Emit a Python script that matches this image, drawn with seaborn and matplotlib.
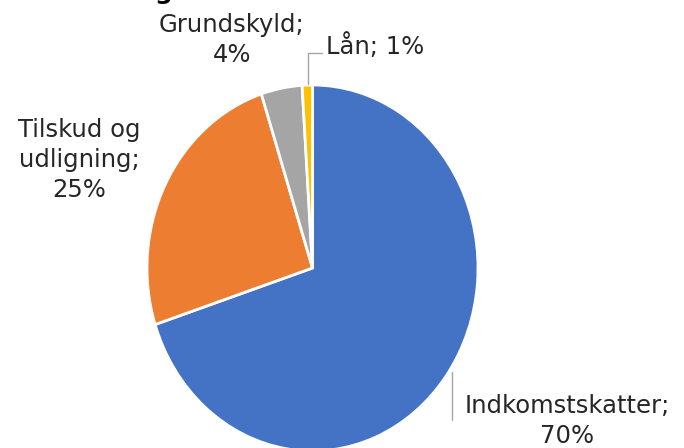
import matplotlib
matplotlib.use("Agg")
import matplotlib.pyplot as plt
import seaborn as sns

sns.set_theme(style="white")
plt.rcParams['font.family'] = ['DejaVu Sans']

categories = ['Indkomstskatter', 'Tilskud og\nudligning', 'Grundskyld', 'Lån']
shares = [70, 25, 4, 1]
label_texts = ['Indkomstskatter;\n70%', 'Tilskud og\nudligning;\n25%', 'Grundskyld;\n4%', 'Lån; 1%']
colours = ['#4472C4', '#ED7D31', '#A5A5A5', '#FFC000']

W, H = 684, 448
fig = plt.figure(figsize=(W / 100, H / 100), dpi=100)

# pie area in pixels (slightly stretched vertically like the original)
left, right, top, bottom = 147, 478, 85, 451
ax = fig.add_axes([left / W, (H - bottom) / H, (right - left) / W, (bottom - top) / H])
ax.pie(shares, colors=colours, startangle=90, counterclock=False,
       wedgeprops=dict(edgecolor='white', linewidth=2))
ax.set_aspect('auto')
ax.set_xlim(-1, 1)
ax.set_ylim(-1, 1)
ax.axis('off')

txt = dict(fontsize=17.5, color='#262626', linespacing=1.3)

def fx(x):
    return x / W

def fy(y):
    return 1 - y / H

fig.text(fx(567), fy(421), label_texts[0], ha='center', va='center', **txt)
fig.text(fx(79), fy(160), label_texts[1], ha='center', va='center', **txt)
fig.text(fx(232), fy(40), label_texts[2], ha='center', va='center', **txt)
fig.text(fx(326), fy(46), label_texts[3], ha='left', va='center', **txt)

# leader lines
fig.add_artist(plt.Line2D([fx(452), fx(452)], [fy(372), fy(420)], color='#A6A6A6', lw=1))
fig.add_artist(plt.Line2D([fx(308), fx(308), fx(322)], [fy(84), fy(53), fy(53)], color='#A6A6A6', lw=1))

# cut-off title fragment at the top
fig.text(fx(164), fy(-1), 'g', ha='center', va='baseline', fontsize=18, fontweight='bold', color='black')

fig.savefig('out.png', dpi=100, facecolor='white')
